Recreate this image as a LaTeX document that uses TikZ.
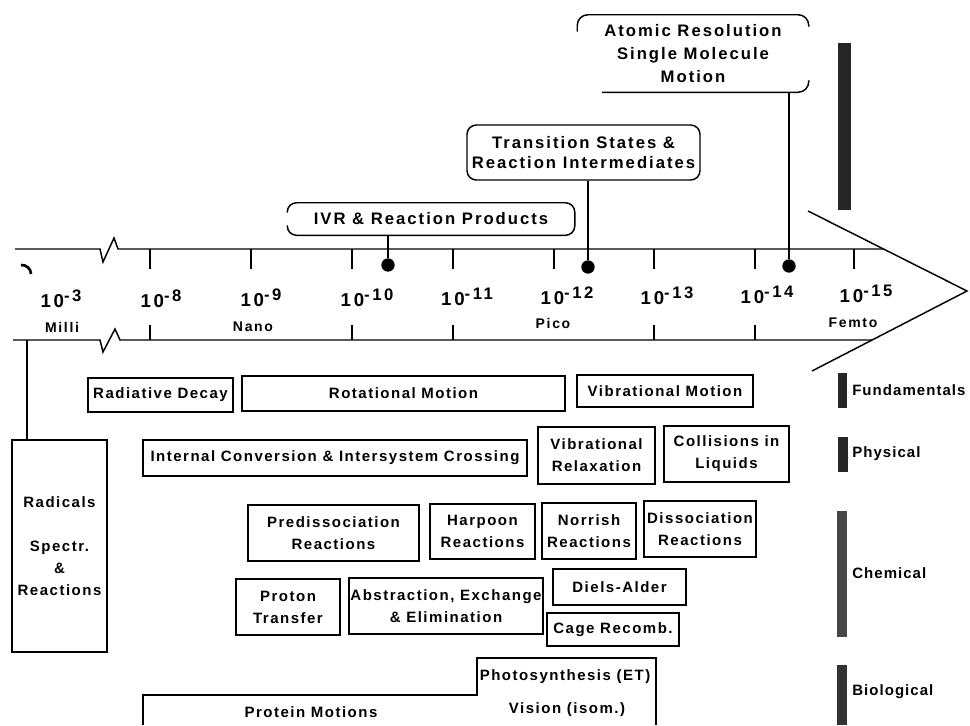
\documentclass[tikz,border=0pt]{standalone}
\usepackage{fontspec}
\setmainfont{Liberation Sans}[LetterSpace=10]
\usepackage{tikz}
\usetikzlibrary{calc}

\newcommand{\puiss}[1]{10\raisebox{4pt}{\fontsize{12.5}{12.5}\selectfont -#1}}

\begin{document}
\begin{tikzpicture}[x=0.75pt, y=-0.75pt,
    trait/.style={line width=1.1pt},
    taille/.style 2 args={minimum width=#1*0.75pt, minimum height=#2*0.75pt},
    boite/.style={draw, line width=1.1pt, align=center, inner sep=0pt,
        font=\bfseries\fontsize{11.25}{16.5}\selectfont},
    bulle/.style={align=center, inner sep=0pt,
        font=\bfseries\fontsize{12.5}{17.25}\selectfont\addfontfeature{LetterSpace=12}},
    graduation/.style={anchor=base, inner sep=0pt,
        font=\bfseries\fontsize{14}{14}\selectfont\addfontfeature{LetterSpace=15}},
    prefixe/.style={anchor=base, inner sep=0pt,
        font=\bfseries\fontsize{10.5}{10.5}\selectfont\addfontfeature{LetterSpace=12}},
    point/.style={circle, fill, inner sep=0pt, minimum size=10pt},
    legende/.style={anchor=west, inner sep=0pt,
        font=\bfseries\fontsize{11.25}{13}\selectfont\addfontfeature{LetterSpace=7}},
    barre/.style={fill=black!85}]

    \useasboundingbox (0,0) rectangle (970,725);

    % Axe des temps
    \draw[trait] (15,249) -- (100,249) -- (103,262) -- (114,238) -- (118,249) -- (883,249);
    \draw[trait] (13,340) -- (100,340) -- (103,352) -- (115,329) -- (120,340) -- (872,340);
    \draw[trait] (808,211) -- (967,291) -- (812,371);
    \draw[line width=2pt] (21,265) to[out=5,in=90] (31,274);
    \foreach \x in {150,251,352,453,554,654,755,854}
        \draw[trait] (\x,249) -- (\x,269);
    \foreach \x in {150,352,453,654,755}
        \draw[trait] (\x,340) -- (\x,325);

    % Graduations
    \foreach \x/\h/\e in {61/307/3, 161/307/8, 261/306/9, 367/306/10, 467/305/11,
                          567/304/12, 667/304/13, 767/303/14, 866/302/15}
        \node[graduation] (g\e) at (\x,\h) {\puiss{\e}};
    \node[prefixe] (milli) at (62,332) {Milli};
    \node[prefixe] (nano) at (253,331) {Nano};
    \node[prefixe] (pico) at (553,328) {Pico};
    \node[prefixe] (femto) at (853,327) {Femto};

    % Bulles au-dessus de l'axe
    \node[bulle, taille={231}{77}] (atome) at (693,53.5)
        {Atomic Resolution\\Single Molecule\\Motion};
    \node[bulle, taille={233}{55}, draw, line width=1.1pt, rounded corners=7pt] (ts) at (583.5,152.5)
        {Transition States \&\\[-2.6pt]Reaction Intermediates};
    \node[bulle, taille={287}{32}] (ivr) at (431,219) {IVR \& Reaction Products};
    \draw[trait, rounded corners=8pt] ($(atome.north west)+(0,17)$) |- (atome.north east)
        -- ($(atome.north east)+(0,12)$);
    \draw[trait, rounded corners=8pt] ($(atome.south east)+(0,-12)$) |- ($(atome.south west)+(25,0)$);
    \draw[trait, rounded corners=7pt] ($(ivr.north west)+(0,10)$) |- (ivr.north east)
        -- (ivr.south east) -| ($(ivr.south west)+(0,-10)$);

    % Points sur l'axe
    \node[point] (pA) at (388,265) {};
    \node[point] (pB) at (588,267) {};
    \node[point] (pC) at (789,266) {};
    \draw[trait] (ivr.south -| pA) -- (pA);
    \draw[trait] (ts.south -| pB) -- (pB);
    \draw[trait] (atome.south -| pC) -- (pC);

    % Processus
    \node[boite, taille={145}{34}] (rad) at (160.5,395) {Radiative Decay};
    \node[boite, taille={323}{35}] (rot) at (403.5,393.5) {Rotational Motion};
    \node[boite, taille={176}{32}] (vib) at (665,391) {Vibrational Motion};
    \node[boite, taille={384}{36}] (ic) at (335,458) {Internal Conversion \& Intersystem Crossing};
    \node[boite, taille={117}{57}] (vr) at (596.5,455.5) {Vibrational\\Relaxation};
    \node[boite, taille={125}{56}] (col) at (726.5,454) {Collisions in\\Liquids};
    \node[boite, taille={171}{56}] (pre) at (333.5,533) {Predissociation\\Reactions};
    \node[boite, taille={105}{55}] (har) at (482.5,531.5) {Harpoon\\Reactions};
    \node[boite, taille={94}{56}] (nor) at (589,531) {Norrish\\Reactions};
    \node[boite, taille={112}{56}] (dis) at (700,529) {Dissociation\\Reactions};
    \node[boite, taille={104}{56}] (pro) at (288,607) {Proton\\Transfer};
    \node[boite, taille={194}{56}] (abs) at (446,606) {Abstraction, Exchange\\\& Elimination};
    \node[boite, taille={133}{36}] (da) at (619.5,587) {Diels-Alder};
    \node[boite, taille={132}{33}] (cage) at (613,629.5) {Cage Recomb.};

    % Radicaux
    \coordinate (bas) at (27,340);
    \node[boite, taille={95}{212}] (radicaux) at (59.5,546)
        {Radicals\\[16.5pt]Spectr.\\\&\\Reactions};
    \draw[trait] (bas) -- (bas |- radicaux.north);

    % Biologie
    \node[boite, draw=none] (proteines) at (311,712) {Protein Motions};
    \node[boite, draw=none] (photo) at (565,677) {Photosynthesis (ET)};
    \node[boite, draw=none] (vision) at (567,710) {Vision (isom.)};
    \draw[trait] (143,725) |- (477,695) |- (656,658) -- (656,725);

    % Legende
    \fill[barre] (838,43) rectangle (851,210);
    \fill[barre] (838,373) rectangle (847,408);
    \fill[barre] (838,437) rectangle (848,472);
    \fill[barre, fill=black!72] (837,511) rectangle (847,637);
    \fill[barre, fill=black!80] (837,665) rectangle (847,725);
    \node[legende] (fond) at (852,390) {Fundamentals};
    \node[legende] (phys) at (852,454) {Physical};
    \node[legende] (chim) at (852,573) {Chemical};
    \node[legende] (bio) at (852,692) {Biological};

\end{tikzpicture}
\end{document}
